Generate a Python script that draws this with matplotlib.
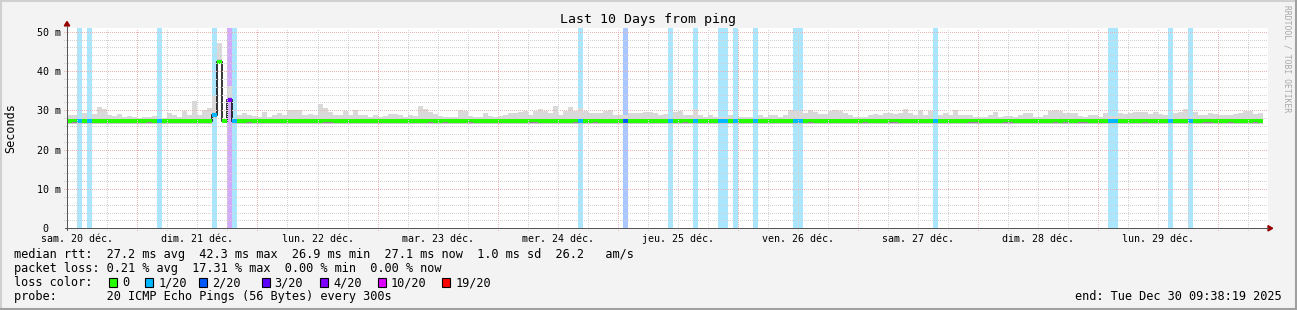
import numpy as np
import matplotlib
matplotlib.use("Agg")
import matplotlib.pyplot as plt
from matplotlib.patches import Rectangle, Polygon
from matplotlib.lines import Line2D

# ---------------- data ----------------
# hourly bins, hour offset from Sat 20 Dec 00:00
hours = list(range(10, 249))

smoke_top = [
    28.8, 28.8, 27.9, 29.3, 27.9, 29.0, 30.9, 30.3, 28.7, 28.6,   # 10-19
    29.0, 28.3, 28.5, 28.3, 28.1, 28.3, 28.3, 28.5, 27.9, 28.1,   # 20-29
    29.3, 28.7, 28.3, 29.8, 28.8, 32.4, 28.7, 30.0, 30.6, 33.7,   # 30-39
    47.2, 27.8, 36.2, 27.8, 28.8, 29.3, 28.7, 28.5, 28.3, 29.5,   # 40-49
    28.3, 28.7, 29.2, 28.8, 30.0, 30.0, 30.0, 28.7, 29.0, 28.7,   # 50-59
    31.7, 30.5, 29.5, 28.7, 28.8, 29.7, 28.7, 30.1, 28.8, 28.7,   # 60-69
    28.3, 28.7, 28.3, 28.5, 29.0, 29.0, 28.7, 28.3, 28.8, 28.5,   # 70-79
    31.1, 30.4, 29.5, 29.0, 28.5, 28.3, 28.3, 28.3, 30.0, 29.9,   # 80-89
    28.5, 28.3, 28.3, 29.2, 28.5, 28.3, 28.5, 28.7, 29.3, 29.3,   # 90-99
    29.5, 29.7, 28.7, 29.7, 30.4, 29.7, 29.2, 31.1, 28.7, 29.7,   # 100-109
    30.9, 29.9, 30.5, 29.7, 29.2, 29.2, 29.2, 29.7, 30.0, 28.8,   # 110-119
    28.8, 28.7, 29.2, 29.3, 29.3, 29.5, 29.5, 29.2, 28.7, 29.0,   # 120-129
    27.9, 29.5, 29.7, 28.8, 28.7, 30.3, 28.7, 28.3, 28.8, 28.3,   # 130-139
    28.4, 28.4, 28.7, 27.9, 28.3, 28.3, 28.3, 27.9, 28.7, 28.3,   # 140-149
    28.7, 28.8, 28.3, 28.7, 30.0, 29.9, 29.9, 29.2, 30.0, 29.5,   # 150-159
    29.0, 29.0, 29.7, 30.0, 29.7, 29.2, 28.7, 28.3, 28.3, 28.3,   # 160-169
    28.7, 29.0, 28.7, 29.2, 29.2, 29.0, 29.3, 30.4, 29.3, 28.7,   # 170-179
    30.2, 28.7, 29.7, 27.9, 28.7, 29.2, 28.7, 30.0, 28.7, 28.9,   # 180-189
    28.7, 28.3, 28.3, 28.3, 28.8, 29.5, 28.3, 28.5, 28.5, 28.3,   # 190-199
    28.8, 29.3, 29.3, 28.3, 28.3, 28.8, 29.7, 30.0, 29.7, 29.3,   # 200-209
    29.2, 29.2, 28.5, 28.3, 28.7, 28.7, 28.3, 29.2, 28.6, 28.6,   # 210-219
    29.2, 29.0, 29.2, 29.5, 29.5, 29.5, 29.0, 29.5, 29.0, 28.7,   # 220-229
    27.9, 29.3, 29.5, 30.4, 28.4, 29.5, 28.7, 28.7, 29.2, 29.0,   # 230-239
    28.7, 28.7, 28.7, 29.0, 29.2, 29.7, 29.7, 29.0, 29.3,         # 240-248
]

smoke_bottom = [26.5] * 29 + [28.0, 42.5, 26.8, 32.3] + [26.5] * 206

median = [27.2] * 29 + [28.9, 42.3, 27.3, 32.6] + [27.2] * 206

# loss per hour bin, in pings out of 20 (class upper bound)
loss_bins = {12: 1, 14: 1, 28: 1, 39: 1, 42: 4, 43: 1, 112: 1, 121: 2,
             130: 1, 135: 1, 140: 1, 141: 1, 143: 1, 147: 1, 155: 1,
             156: 1, 183: 1, 218: 1, 219: 1, 230: 1, 234: 1}

mark_bins = [11, 26, 46, 61, 62, 82, 85, 90, 102, 103, 111, 115, 133, 158,
             169, 174, 175, 190, 191, 197, 198, 207, 209, 212, 213, 225,
             237, 238, 242, 247]

loss_levels = [0, 1, 2, 3, 4, 10, 19]
loss_labels = ["0", "1/20", "2/20", "3/20", "4/20", "10/20", "19/20"]
loss_colors = ["#26ff00", "#00b8ff", "#0059ff", "#5e00ff", "#7e00ff",
               "#dd00ff", "#ff0000"]

day_labels = ["sam. 20 déc.", "dim. 21 déc.", "lun. 22 déc.", "mar. 23 déc.",
              "mer. 24 déc.", "jeu. 25 déc.", "ven. 26 déc.", "sam. 27 déc.",
              "dim. 28 déc.", "lun. 29 déc."]
ytick_vals = [0, 10, 20, 30, 40, 50]
ytick_labels = ["0  ", "10 m", "20 m", "30 m", "40 m", "50 m"]

stats_lines = [
    "median rtt:  27.2 ms avg  42.3 ms max  26.9 ms min  27.1 ms now  1.0 ms sd  26.2   am/s",
    "packet loss: 0.21 % avg  17.31 % max  0.00 % min  0.00 % now",
    "loss color:",
    "probe:       20 ICMP Echo Pings (56 Bytes) every 300s",
]
end_text = "end: Tue Dec 30 09:38:19 2025"

# ---------------- figure ----------------
W, H = 1297, 310
DPI = 100
MONO = "DejaVu Sans Mono"
BG = "#f3f3f3"

fig = plt.figure(figsize=(W / DPI, H / DPI), dpi=DPI, facecolor=BG)

def fx(px):
    return px / W

def fy(py):
    return 1 - py / H

ax_left, ax_right, ax_top, ax_bot = 67, 1268, 27.7, 228.3
ax = fig.add_axes([fx(ax_left), fy(ax_bot), (ax_right - ax_left) / W,
                   (ax_bot - ax_top) / H])
ax.set_facecolor("white")
x0, x1 = 9.94, 249.94
y0, y1 = 0, 51.0
ax.set_xlim(x0, x1)
ax.set_ylim(y0, y1)
for s in ax.spines.values():
    s.set_visible(False)

hours_a = np.array(hours, dtype=float)
edges = np.append(hours_a, hours_a[-1] + 1)
med = np.array(median)
top = np.array(smoke_top)
bot = np.array(smoke_bottom)

# loss background
for h, lvl in loss_bins.items():
    c = loss_colors[loss_levels.index(lvl)]
    ax.axvspan(h, h + 1, color=c, alpha=0.333, lw=0, zorder=1)

# smoke
ax.stairs(top, edges, baseline=bot, fill=True, color="#d9d9d9", lw=0, zorder=2)
inner_lo = np.minimum(med - 0.8, bot + 0.3)
inner_hi = np.minimum(med + 0.7, top)
ax.stairs(inner_hi, edges, baseline=np.maximum(inner_lo, bot), fill=True,
          color="#c8c8c8", lw=0, zorder=3)

# median line (black) and loss coloured median band
ax.stairs(med, edges, baseline=None, color="black", lw=1.1, zorder=4)
sw = 0.51
band_colors = []
for h in hours:
    lvl = loss_bins.get(h, 0)
    band_colors.append(loss_colors[loss_levels.index(lvl)])
ax.bar(hours_a, 2 * sw, bottom=med - sw, width=1.0, align="edge",
       color=band_colors, lw=0, antialiased=False, zorder=5)

# dark smoke marks just under median
mb = np.array(mark_bins, dtype=float)
mmed = np.array([median[hours.index(h)] for h in mark_bins])
ax.bar(mb, 0.28, bottom=mmed - sw, width=1.0, align="edge", color="#9e7e9e",
       lw=0, antialiased=False, zorder=6)

# grid (rrdtool draws it on top)
GRID = "#d2d2d2"
MGRID = "#eab4b4"
ext_x = 3 / (ax_right - ax_left)
ext_y = 2 / (ax_bot - ax_top)
yt = ax.get_yaxis_transform()
xt = ax.get_xaxis_transform()
for v in np.arange(2, 51, 2):
    major = (v % 10 == 0)
    ax.add_line(Line2D([-ext_x, 1], [v, v], transform=yt,
                       color=MGRID if major else GRID, lw=0.72,
                       linestyle=(0, (1, 2)), clip_on=False, zorder=8,
                       antialiased=False))
for v in np.arange(12, 250, 6):
    major = (v % 24 == 0)
    ax.add_line(Line2D([v, v], [-ext_y, 1], transform=xt,
                       color=MGRID if major else GRID, lw=0.72,
                       linestyle=(0, (1, 2)), clip_on=False, zorder=8,
                       antialiased=False))

# ticks & labels
ax.set_yticks(ytick_vals, ytick_labels)
ax.set_xticks([])
ax.tick_params(axis="both", length=0, labelsize=7.2, colors="black")
ax.tick_params(axis="y", pad=4.4)
for lab in ax.get_yticklabels():
    lab.set_family(MONO)
label_base = -(241.5 - ax_bot) / (ax_bot - ax_top)
for pos, lab in zip(np.arange(12, 240, 24), day_labels):
    ax.text(pos, label_base, lab, transform=xt, ha="center", va="baseline",
            family=MONO, fontsize=7.2)

# axes lines and arrows
AX = "#555555"
ARR = "#990000"
fig.add_artist(Line2D([fx(ax_left), fx(ax_left)], [fy(ax_bot + 2), fy(25.7)],
                      color=AX, lw=0.72))
fig.add_artist(Line2D([fx(ax_left - 2), fx(ax_right)], [fy(ax_bot), fy(ax_bot)],
                      color=AX, lw=0.72))
fig.add_artist(Polygon([(fx(64.3), fy(25.9)), (fx(69.7), fy(25.9)),
                        (fx(67.0), fy(21.5))], closed=True, color=ARR))
fig.add_artist(Polygon([(fx(1268), fy(225.6)), (fx(1268), fy(231.0)),
                        (fx(1272.6), fy(228.3))], closed=True, color=ARR))

# title and labels
fig.text(fx(648), fy(19), "Last 10 Days from ping", ha="center", va="center",
         family=MONO, fontsize=9.5)
fig.text(fx(11), fy(128), "Seconds", rotation=90, ha="center", va="center",
         family=MONO, fontsize=8.5)
fig.text(fx(1287), fy(59), "RRDTOOL / TOBI OETIKER", rotation=270,
         ha="center", va="center", family=MONO, fontsize=5.8, color="#a8a8a8")

# legend text
FS = 8.55
baselines = [258, 272, 286, 300]
for line, b in zip(stats_lines, baselines):
    fig.text(fx(14), fy(b), line, ha="left", va="baseline", family=MONO,
             fontsize=FS)
fig.text(fx(1282), fy(300), end_text, ha="right", va="baseline", family=MONO,
         fontsize=FS)

sq_x = [109, 145.3, 199, 261.7, 320, 377.7, 442.3]
for sx, c, lab in zip(sq_x, loss_colors, loss_labels):
    fig.add_artist(Rectangle((fx(sx), fy(286.6)), 8 / W, 8.2 / H,
                             facecolor=c, edgecolor="black", lw=0.8))
    fig.text(fx(sx + 13.0), fy(286), lab, ha="left", va="baseline",
             family=MONO, fontsize=FS)

# 3D frame
fig.add_artist(Line2D([0, 1], [fy(0.5), fy(0.5)], color="#d0d0d0", lw=1.5))
fig.add_artist(Line2D([fx(0.5), fx(0.5)], [0, 1], color="#d0d0d0", lw=1.5))
fig.add_artist(Line2D([0, 1], [fy(H - 1), fy(H - 1)], color="#a0a0a0", lw=2.2))
fig.add_artist(Line2D([fx(W - 1), fx(W - 1)], [0, 1], color="#a0a0a0", lw=2.2))

fig.savefig("out.png", dpi=DPI, facecolor=BG)
